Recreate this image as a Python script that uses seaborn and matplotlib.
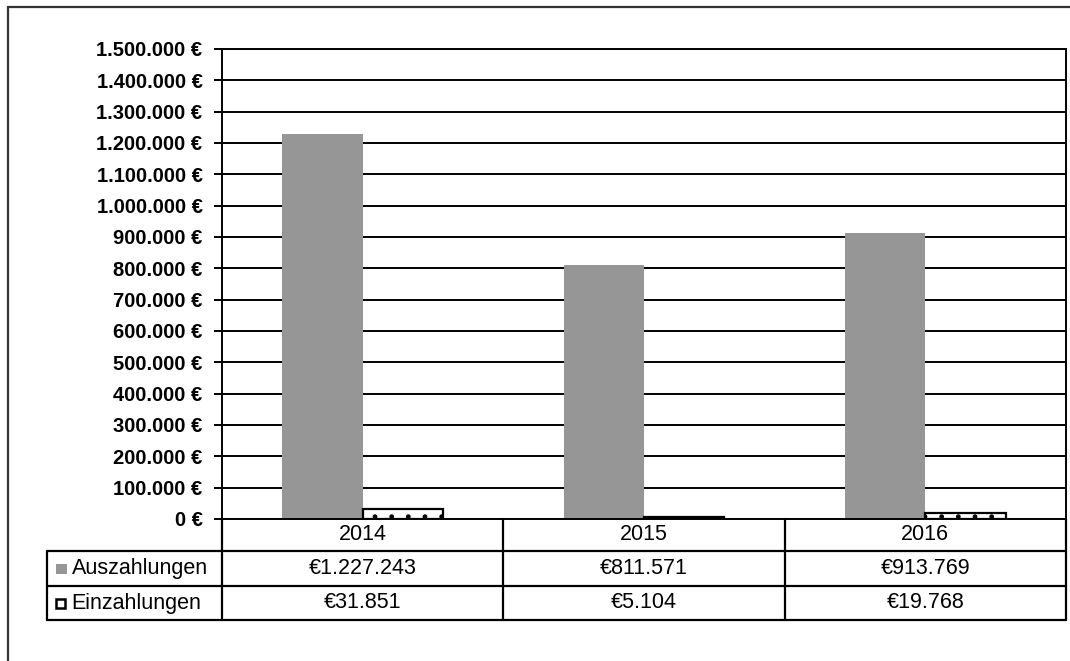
import matplotlib
matplotlib.use("Agg")
import matplotlib.pyplot as plt
import matplotlib.transforms as mtransforms
from matplotlib.lines import Line2D
from matplotlib.patches import Rectangle
import seaborn as sns
import pandas as pd

# Chart data
years = ["2014", "2015", "2016"]
series_names = ["Auszahlungen", "Einzahlungen"]
auszahlungen = [1227243, 811571, 913769]
einzahlungen = [31851, 5104, 19768]
y_ticks = list(range(0, 1500001, 100000))

sns.set_theme(style="white")
plt.rcParams["font.family"] = ["Liberation Sans", "DejaVu Sans"]
plt.rcParams["hatch.color"] = "black"
plt.rcParams["hatch.linewidth"] = 1.0

W, H = 1070, 661
fig = plt.figure(figsize=(W / 100, H / 100), dpi=100)
fig.patch.set_facecolor("white")


def fx(px):
    return px / W


def fy(py):
    return 1 - py / H


ax = fig.add_axes([fx(222), fy(519), fx(1066) - fx(222), fy(49) - fy(519)])

df = pd.DataFrame({
    "Jahr": years * 2,
    "Serie": [series_names[0]] * len(years) + [series_names[1]] * len(years),
    "Betrag": auszahlungen + einzahlungen,
})

sns.barplot(data=df, x="Jahr", y="Betrag", hue="Serie", order=years,
            hue_order=series_names, palette=["#969696", "white"],
            width=0.57, gap=0, dodge=True, errorbar=None, legend=False,
            saturation=1, ax=ax)

# Style the bars: grey bars flat, white bars outlined with a dotted fill
n = len(years)
for i, patch in enumerate(ax.patches[: 2 * n]):
    if i < n:
        patch.set_edgecolor("none")
        patch.set_linewidth(0)
    else:
        patch.set_facecolor("white")
        patch.set_edgecolor("black")
        patch.set_linewidth(1.6)
        patch.set_hatch(".")

ax.set_xlim(-0.5, len(years) - 0.5)
ax.set_ylim(0, 1500000)
ax.set_yticks(y_ticks)
ax.set_yticklabels([f"{v:,.0f}".replace(",", ".") + " €" for v in y_ticks],
                   fontsize=14.5, fontweight="bold", color="black")
ax.tick_params(axis="y", which="major", left=True, length=6, width=1.4,
               direction="out", pad=8, color="black")
ax.set_xticks([])
ax.set_xlabel("")
ax.set_ylabel("")
ax.yaxis.grid(True, color="black", linewidth=1.4)
ax.set_axisbelow(True)
for side in ["left", "right", "top", "bottom"]:
    ax.spines[side].set_visible(True)
    ax.spines[side].set_color("black")
    ax.spines[side].set_linewidth(1.4)

# Data table below the plot area
blend = mtransforms.blended_transform_factory(ax.transData, fig.transFigure)
lw = 1.6
row_y = [519, 551, 586, 620]
x_left = -0.5
table_fs = 15.5

# horizontal rules
for yy in row_y[1:]:
    fig.add_artist(Line2D([fx(47), fx(1066)], [fy(yy), fy(yy)],
                          color="black", linewidth=lw))
# vertical rules between years
for b in [x_left + i for i in range(len(years) + 1)]:
    fig.add_artist(Line2D([b, b], [fy(519), fy(620)], color="black",
                          linewidth=lw, transform=blend))
# label column left edge
fig.add_artist(Line2D([fx(47), fx(47)], [fy(551), fy(620)],
                      color="black", linewidth=lw))

row_centers = [(row_y[i] + row_y[i + 1]) / 2 for i in range(3)]
for i, yr in enumerate(years):
    fig.text(i, fy(row_centers[0]), yr, transform=blend, ha="center",
             va="center", fontsize=table_fs, color="black")
    fig.text(i, fy(row_centers[1]),
             "€" + f"{auszahlungen[i]:,.0f}".replace(",", "."),
             transform=blend, ha="center", va="center", fontsize=table_fs,
             color="black")
    fig.text(i, fy(row_centers[2]),
             "€" + f"{einzahlungen[i]:,.0f}".replace(",", "."),
             transform=blend, ha="center", va="center", fontsize=table_fs,
             color="black")

# series keys and names in the table's label column
fig.add_artist(Rectangle((fx(56), fy(row_centers[1] + 5)), fx(11), 10 / H,
                         facecolor="#969696", edgecolor="none"))
fig.add_artist(Rectangle((fx(56), fy(row_centers[2] + 4.5)), fx(9), 9 / H,
                         facecolor="white", edgecolor="black", linewidth=1.8))
fig.text(fx(72), fy(row_centers[1]), series_names[0], ha="left",
         va="center", fontsize=table_fs, color="black")
fig.text(fx(71), fy(row_centers[2]), series_names[1], ha="left",
         va="center", fontsize=table_fs, color="black")

# outer chart frame
fig.add_artist(Line2D([fx(8), fx(1075)], [fy(7), fy(7)], color="#333333",
                      linewidth=1.6))
fig.add_artist(Line2D([fx(8), fx(8)], [fy(7), fy(670)], color="#333333",
                      linewidth=1.6))

fig.savefig("out.png", dpi=100, facecolor="white")
